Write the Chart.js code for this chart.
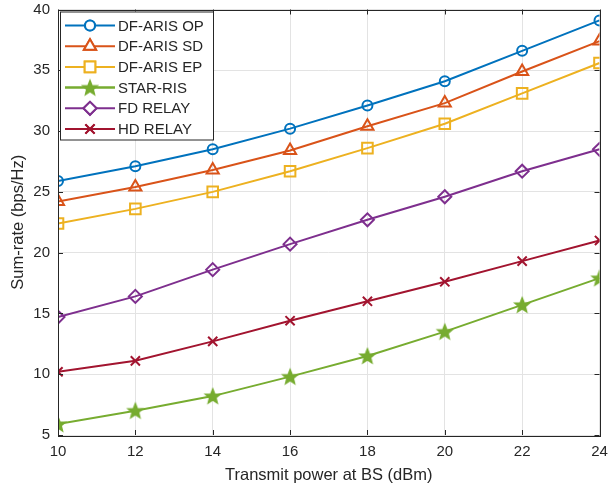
<!DOCTYPE html>
<html>
<head>
<meta charset="utf-8">
<script src="https://cdn.jsdelivr.net/npm/chart.js@4/dist/chart.umd.min.js"></script>
<style>
  html, body { margin: 0; padding: 0; background: #fff; }
  #wrap { width: 609px; height: 491px; }
</style>
</head>
<body>
<div id="wrap"><canvas id="myChart" width="609" height="491"></canvas></div>
<script>
// datos
const potencia = [10, 12, 14, 16, 18, 20, 22, 24];
const df_op = [25.9, 27.1, 28.5, 30.2, 32.1, 34.1, 36.6, 39.1];
const df_sd = [24.2, 25.4, 26.8, 28.4, 30.4, 32.3, 34.9, 37.4];
const df_ep = [22.4, 23.6, 25.0, 26.7, 28.6, 30.6, 33.1, 35.6];
const star_ris = [5.9, 7.0, 8.2, 9.8, 11.5, 13.5, 15.7, 17.9];
const fd_relay = [14.7, 16.4, 18.6, 20.7, 22.7, 24.6, 26.7, 28.5];
const hd_relay = [10.2, 11.1, 12.7, 14.4, 16.0, 17.6, 19.3, 21.0];
const etiquetas = ['DF-ARIS OP', 'DF-ARIS SD', 'DF-ARIS EP', 'STAR-RIS', 'FD RELAY', 'HD RELAY'];

const txt = '#262626';
const fuente = "'Liberation Sans', Arial, Helvetica, sans-serif";

// estrella rellena (pentagrama)
function hacerEstrella(color) {
    const c = document.createElement('canvas');
    c.width = 20; c.height = 20;
    const g = c.getContext('2d');
    g.beginPath();
    for (let i = 0; i < 10; i++) {
        const r = (i % 2 === 0) ? 7.5 : 3.3;
        const a = -Math.PI / 2 + i * Math.PI / 5;
        const px = 10 + r * Math.cos(a), py = 10.6 + r * Math.sin(a);
        if (i === 0) g.moveTo(px, py); else g.lineTo(px, py);
    }
    g.closePath();
    g.fillStyle = color;
    g.fill();
    g.strokeStyle = color;
    g.lineWidth = 1.6;
    g.lineJoin = 'miter';
    g.stroke();
    return c;
}
const estrella = hacerEstrella('#77AC30');

function serie(label, data, color, estilo, radio) {
    return {
        label: label,
        data: potencia.map((x, i) => ({ x: x, y: data[i] })),
        borderColor: color,
        backgroundColor: '#fff',
        borderWidth: 2,
        pointStyle: estilo,
        pointRadius: radio,
        pointBorderWidth: 2,
        pointBorderColor: color,
        pointBackgroundColor: 'rgba(255,255,255,0)',
        tension: 0
    };
}

// leyenda y marco estilo matlab
const marcoPlugin = {
    id: 'marco',
    afterDraw(chart) {
        const ctx = chart.ctx;
        const a = chart.chartArea;
        const xs = chart.scales.x, ys = chart.scales.y;
        ctx.save();
        // ticks hacia dentro
        ctx.strokeStyle = txt;
        ctx.lineWidth = 1;
        ctx.beginPath();
        potencia.forEach(v => {
            const px = Math.round(xs.getPixelForValue(v)) + 0.5;
            ctx.moveTo(px, a.bottom); ctx.lineTo(px, a.bottom - 5);
            ctx.moveTo(px, a.top); ctx.lineTo(px, a.top + 5);
        });
        for (let v = 5; v <= 40; v += 5) {
            const py = Math.round(ys.getPixelForValue(v)) + 0.5;
            ctx.moveTo(a.left, py); ctx.lineTo(a.left + 5, py);
            ctx.moveTo(a.right, py); ctx.lineTo(a.right - 5, py);
        }
        ctx.stroke();
        ctx.strokeRect(Math.round(a.left) + 0.5, Math.round(a.top) + 0.5,
            Math.round(a.right - a.left), Math.round(a.bottom - a.top));

        // leyenda
        const lx = a.left + 2, ly = a.top + 2, lw = 153, lh = 128;
        ctx.fillStyle = '#fff';
        ctx.fillRect(lx, ly, lw, lh);
        ctx.strokeStyle = txt;
        ctx.strokeRect(lx + 0.5, ly + 0.5, lw, lh);
        ctx.font = '15px ' + fuente;
        ctx.textBaseline = 'middle';
        ctx.textAlign = 'left';
        chart.data.datasets.forEach((ds, i) => {
            const cy = ly + 14 + i * 20.7;
            ctx.strokeStyle = ds.borderColor;
            ctx.lineWidth = 2;
            ctx.beginPath();
            ctx.moveTo(lx + 5, cy); ctx.lineTo(lx + 55, cy);
            ctx.stroke();
            Chart.helpers.drawPoint(ctx, {
                pointStyle: ds.pointStyle,
                radius: ds.pointRadius,
                borderWidth: 2,
                rotation: 0
            }, lx + 30, cy);
            ctx.fillStyle = '#fff';
            if (typeof ds.pointStyle === 'string' && ds.pointStyle !== 'crossRot') {
                ctx.fill();
            }
            ctx.strokeStyle = ds.borderColor;
            ctx.stroke();
            ctx.fillStyle = txt;
            ctx.fillText(ds.label, lx + 58, cy + 1);
        });
        ctx.restore();
    }
};

const ctx = document.getElementById('myChart').getContext('2d');
const myChart = new Chart(ctx, {
    type: 'line',
    data: {
        datasets: [
            serie(etiquetas[0], df_op, '#0072BD', 'circle', 5),
            serie(etiquetas[1], df_sd, '#D95319', 'triangle', 7),
            serie(etiquetas[2], df_ep, '#EDB120', 'rect', 7.5),
            serie(etiquetas[3], star_ris, '#77AC30', estrella, 7),
            serie(etiquetas[4], fd_relay, '#7E2F8E', 'rectRot', 6.5),
            serie(etiquetas[5], hd_relay, '#A2142F', 'crossRot', 6.5)
        ]
    },
    options: {
        responsive: false,
        animation: false,
        layout: { padding: { top: 7, right: 9, left: 0, bottom: 0 } },
        plugins: {
            legend: { display: false },
            tooltip: { enabled: false }
        },
        scales: {
            x: {
                type: 'linear',
                min: 10, max: 24,
                border: { display: false },
                grid: { color: '#e3e3e3', drawTicks: false },
                ticks: {
                    stepSize: 2, padding: 8, color: txt,
                    font: { size: 15, family: fuente }
                },
                title: {
                    display: true, text: 'Transmit power at BS (dBm)', color: txt,
                    font: { size: 16.5, family: fuente },
                    padding: { top: 0, bottom: 6 }
                },
                afterFit(scale) {
                    scale.height = 56;
                    scale.paddingLeft = 0;
                    scale.paddingRight = 0;
                }
            },
            y: {
                min: 5, max: 40,
                border: { display: false },
                grid: { color: '#e3e3e3', drawTicks: false },
                ticks: {
                    stepSize: 5, padding: 8, color: txt,
                    font: { size: 15, family: fuente }
                },
                title: {
                    display: true, text: 'Sum-rate (bps/Hz)', color: txt,
                    font: { size: 16.5, family: fuente },
                    padding: { top: 9, bottom: 0 }
                },
                afterFit(scale) {
                    scale.width = 58;
                    scale.paddingTop = 0;
                    scale.paddingBottom = 0;
                }
            }
        }
    },
    plugins: [marcoPlugin]
});
</script>
</body>
</html>
